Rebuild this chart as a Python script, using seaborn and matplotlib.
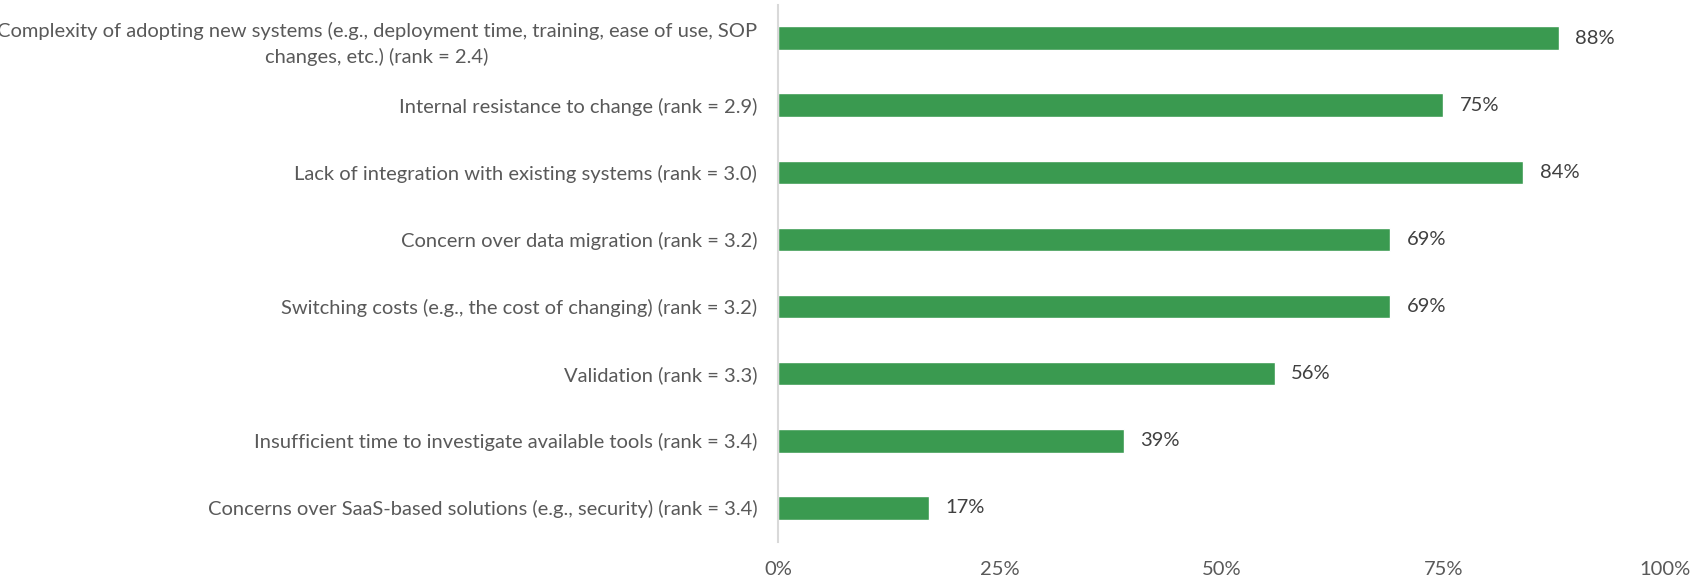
import pandas as pd
import matplotlib
matplotlib.use("Agg")
import matplotlib.pyplot as plt
import seaborn as sns
from matplotlib.ticker import PercentFormatter

# data
labels = [
    "Complexity of adopting new systems (e.g., deployment time, training, ease of use, SOP\nchanges, etc.) (rank = 2.4)",
    "Internal resistance to change (rank = 2.9)",
    "Lack of integration with existing systems (rank = 3.0)",
    "Concern over data migration (rank = 3.2)",
    "Switching costs (e.g., the cost of changing) (rank = 3.2)",
    "Validation (rank = 3.3)",
    "Insufficient time to investigate available tools (rank = 3.4)",
    "Concerns over SaaS-based solutions (e.g., security) (rank = 3.4)",
]
pct = [88, 75, 84, 69, 69, 56, 39, 17]
xticks = [0, 25, 50, 75, 100]

df = pd.DataFrame({"label": labels, "pct": pct})

sns.set_style("white")
plt.rcParams["font.family"] = ["Lato", "DejaVu Sans"]

fig = plt.figure(figsize=(17.05, 5.79), dpi=100)
ax = fig.add_axes([778 / 1705, 1 - 541.5 / 579, (1665 - 778) / 1705, 537 / 579])

sns.barplot(data=df, x="pct", y="label", color="#3A9A50", width=0.35,
            saturation=1, orient="h", ax=ax)

ax.set_xlim(0, 100)
ax.set_xticks(xticks)
ax.xaxis.set_major_formatter(PercentFormatter(decimals=0))
ax.set_xlabel("")
ax.set_ylabel("")

for s in ["top", "right", "bottom"]:
    ax.spines[s].set_visible(False)
ax.spines["left"].set_color("#d9d9d9")
ax.spines["left"].set_linewidth(1.5)

ax.tick_params(axis="y", length=0, pad=15, labelsize=14.5, labelcolor="#595959")
ax.tick_params(axis="x", length=0, pad=14, labelsize=14.5, labelcolor="#595959")
for t in ax.get_yticklabels():
    t.set_multialignment("center")
    t.set_linespacing(1.55)

ax.bar_label(ax.containers[0], labels=[f"{v}%" for v in pct], padding=12,
             fontsize=14.5, color="#404040")

fig.savefig("out.png", dpi=100)
